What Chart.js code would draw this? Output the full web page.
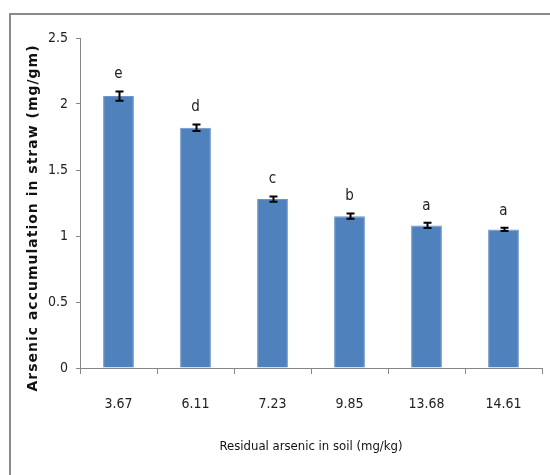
<!DOCTYPE html>
<html>
<head>
<meta charset="utf-8">
<style>
  body { margin: 0; background: #fff; }
  #wrap { position: relative; width: 550px; height: 475px; }
  #frame {
    position: absolute; left: 9px; top: 13px; right: 0; bottom: 0;
    border-top: 2px solid #8a8a8a; border-left: 2px solid #8a8a8a;
    pointer-events: none;
  }
</style>
</head>
<body>
<div id="wrap">
  <canvas id="strawChart"></canvas>
  <div id="frame"></div>
</div>

<script src="https://cdn.jsdelivr.net/npm/chart.js/dist/chart.umd.min.js"></script>
<script>
  // residual arsenic in soil (mg/kg) -> arsenic in straw (mg/gm)
  const soilLabels = ['3.67', '6.11', '7.23', '9.85', '13.68', '14.61'];
  const strawValues = [2.06, 1.82, 1.28, 1.15, 1.08, 1.05];
  const strawErrors = [0.035, 0.025, 0.02, 0.02, 0.02, 0.012];
  const groupLetters = ['e', 'd', 'c', 'b', 'a', 'a'];
  const yTicks = [0, 0.5, 1, 1.5, 2, 2.5];
  const yTitle = 'Arsenic accumulation in straw (mg/gm)';

  const narrow = "'Liberation Sans Narrow', 'DejaVu Sans Condensed', sans-serif";

  // error bars + significance letters, placed via the y scale
  const errorBars = {
    id: 'errorBars',
    afterDatasetsDraw(chart) {
      const { ctx, scales: { y } } = chart;
      const meta = chart.getDatasetMeta(0);
      ctx.save();
      ctx.strokeStyle = '#000';
      ctx.lineWidth = 2;
      meta.data.forEach((bar, i) => {
        const top = y.getPixelForValue(strawValues[i] + strawErrors[i]);
        const bot = y.getPixelForValue(strawValues[i] - strawErrors[i]);
        const x = Math.round(bar.x) + 0.5;
        ctx.beginPath();
        ctx.moveTo(x, top); ctx.lineTo(x, bot);
        ctx.moveTo(x - 4, top); ctx.lineTo(x + 4, top);
        ctx.moveTo(x - 4, bot); ctx.lineTo(x + 4, bot);
        ctx.stroke();

        ctx.fillStyle = '#222';
        ctx.font = '15px ' + narrow;
        ctx.textAlign = 'center';
        ctx.textBaseline = 'middle';
        ctx.fillText(groupLetters[i], bar.x, top - 17);
      });
      ctx.restore();
    }
  };

  // y title drawn by hand so it can be letter-spaced like the original
  const yTitlePlugin = {
    id: 'yTitlePlugin',
    afterDraw(chart) {
      const { ctx, chartArea } = chart;
      ctx.save();
      ctx.translate(chartArea.left - 47, chartArea.bottom - 150);
      ctx.rotate(-Math.PI / 2);
      ctx.font = "bold 14px 'DejaVu Sans', sans-serif";
      ctx.letterSpacing = '1px';
      ctx.fillStyle = '#111';
      ctx.textAlign = 'center';
      ctx.textBaseline = 'middle';
      ctx.fillText(yTitle, 0, 0);
      ctx.restore();
    }
  };

  new Chart(document.getElementById('strawChart'), {
    type: 'bar',
    data: {
      labels: soilLabels,
      datasets: [{
        data: strawValues,
        backgroundColor: '#4f81bd',
        borderColor: '#6d95c8',
        borderWidth: 1,
        barPercentage: 0.4,
        categoryPercentage: 1
      }]
    },
    options: {
      responsive: true,
      maintainAspectRatio: false,
      animation: false,
      layout: { padding: { left: 0, right: 8, top: 38, bottom: 0 } },
      plugins: {
        legend: { display: false },
        tooltip: { enabled: false }
      },
      scales: {
        x: {
          afterFit(scale) { scale.height = 107; },
          grid: { display: true, drawOnChartArea: false, tickLength: 6, color: '#868686' },
          border: { color: '#868686' },
          ticks: { color: '#222', font: { family: narrow, size: 14 }, padding: 22 },
          title: {
            display: true,
            text: 'Residual arsenic in soil (mg/kg)',
            color: '#111',
            font: { family: narrow, size: 13 },
            padding: { top: 0, bottom: 21 }
          }
        },
        y: {
          min: 0,
          max: 2.5,
          afterFit(scale) { scale.width = 80; },
          afterBuildTicks(scale) { scale.ticks = yTicks.map(v => ({ value: v })); },
          grid: { display: true, drawOnChartArea: false, tickLength: 4, color: '#868686' },
          border: { color: '#868686' },
          ticks: {
            color: '#222',
            font: { family: narrow, size: 14 },
            padding: 8,
            callback: v => String(v)
          }
        }
      }
    },
    plugins: [errorBars, yTitlePlugin]
  });
</script>
</body>
</html>
